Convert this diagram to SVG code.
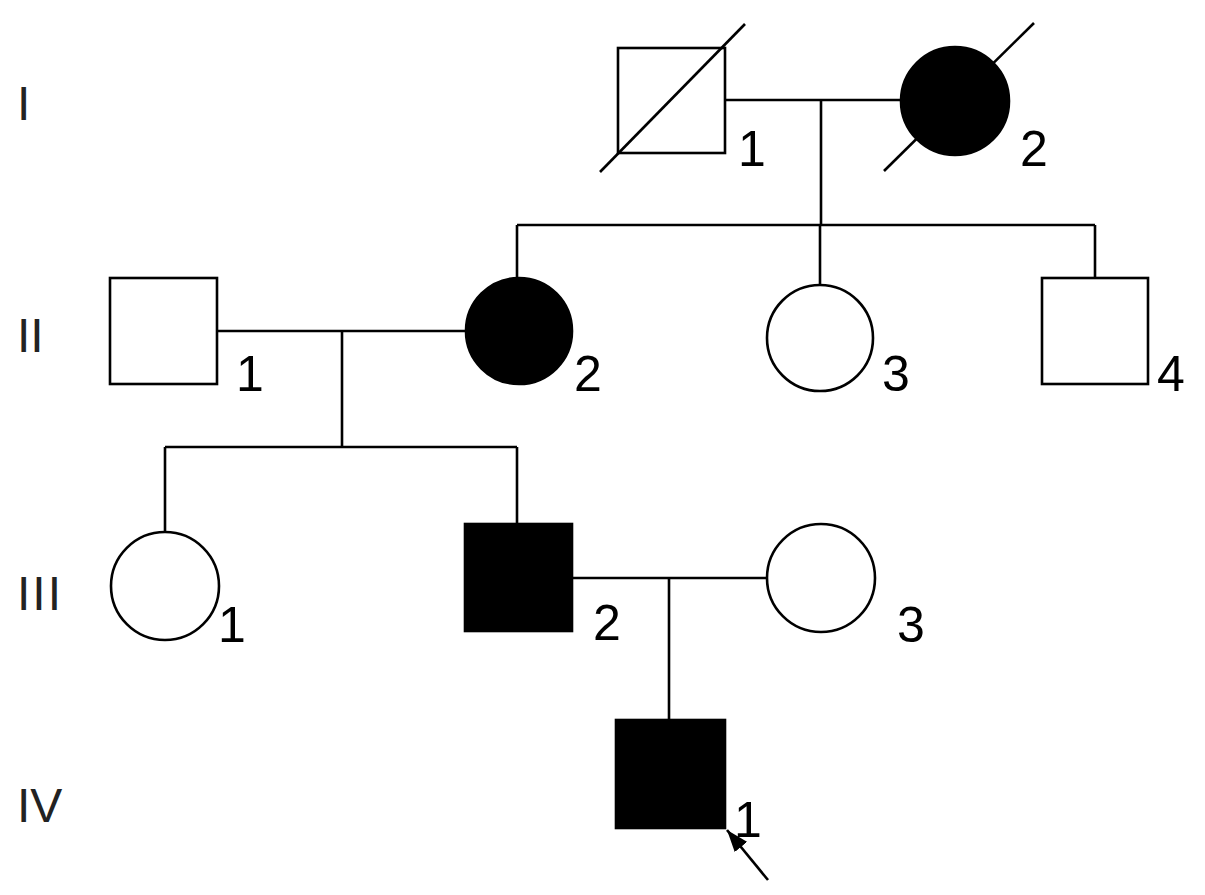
<svg xmlns="http://www.w3.org/2000/svg" width="1205" height="895" viewBox="0 0 1205 895">
<defs>
<style>
.ln{stroke:#000;stroke-width:2.6;fill:none}
.open{stroke:#000;stroke-width:2.6;fill:#fff}
.aff{stroke:#000;stroke-width:2.6;fill:#000}
.num{font-family:"Liberation Sans",Arial,sans-serif;font-size:50px;fill:#000}
.gen{font-family:"Liberation Sans",Arial,sans-serif;font-size:48px;fill:#222}
</style>
<marker id="ah" markerWidth="22" markerHeight="16" refX="10" refY="5" orient="auto" markerUnits="userSpaceOnUse" viewBox="0 0 10 10" preserveAspectRatio="none">
<path d="M0,0 L10,5 L0,10 Z" fill="#000"/>
</marker>
</defs>
<rect width="1205" height="895" fill="#fff"/>
<g id="generations">
<text class="gen" x="17" y="120">I</text>
<text class="gen" x="17" y="352">II</text>
<text class="gen" x="17" y="610" letter-spacing="2">III</text>
<text class="gen" x="17" y="822">IV</text>
</g>
<g id="connectors">
<line class="ln" x1="725" y1="100" x2="902" y2="100"/>
<line class="ln" x1="821" y1="100" x2="821" y2="225"/>
<line class="ln" x1="517" y1="225" x2="1095" y2="225"/>
<line class="ln" x1="517" y1="225" x2="517" y2="278"/>
<line class="ln" x1="820" y1="225" x2="820" y2="285"/>
<line class="ln" x1="1095" y1="225" x2="1095" y2="278"/>
<line class="ln" x1="217" y1="331" x2="466" y2="331"/>
<line class="ln" x1="342" y1="331" x2="342" y2="447"/>
<line class="ln" x1="165" y1="447" x2="517" y2="447"/>
<line class="ln" x1="165" y1="447" x2="165" y2="532"/>
<line class="ln" x1="517" y1="447" x2="517" y2="524"/>
<line class="ln" x1="572" y1="578" x2="768" y2="578"/>
<line class="ln" x1="669" y1="578" x2="669" y2="720"/>
<line class="ln" x1="768" y1="880" x2="727" y2="830" marker-end="url(#ah)"/>
</g>
<g id="I-1">
<rect class="open" x="618" y="48" width="107" height="105"/>
<line class="ln" x1="600" y1="172" x2="745" y2="24"/>
<text class="num" x="738" y="166">1</text>
</g>
<g id="I-2">
<circle class="aff" cx="955" cy="101" r="54"/>
<line class="ln" x1="884" y1="171" x2="1034" y2="23"/>
<text class="num" x="1020" y="166">2</text>
</g>
<g id="II-1">
<rect class="open" x="110" y="278" width="107" height="106"/>
<text class="num" x="236" y="391">1</text>
</g>
<g id="II-2">
<circle class="aff" cx="519" cy="331" r="53"/>
<text class="num" x="574" y="391">2</text>
</g>
<g id="II-3">
<circle class="open" cx="820" cy="338" r="53"/>
<text class="num" x="882" y="391">3</text>
</g>
<g id="II-4">
<rect class="open" x="1042" y="278" width="106" height="106"/>
<text class="num" x="1157" y="391">4</text>
</g>
<g id="III-1">
<circle class="open" cx="165" cy="586" r="54"/>
<text class="num" x="218" y="642">1</text>
</g>
<g id="III-2">
<rect class="aff" x="465" y="524" width="107" height="107"/>
<text class="num" x="593" y="640">2</text>
</g>
<g id="III-3">
<circle class="open" cx="821" cy="578" r="54"/>
<text class="num" x="897" y="642">3</text>
</g>
<g id="IV-1">
<rect class="aff" x="616" y="720" width="109" height="108"/>
<text class="num" x="734" y="837">1</text>
</g>
</svg>
